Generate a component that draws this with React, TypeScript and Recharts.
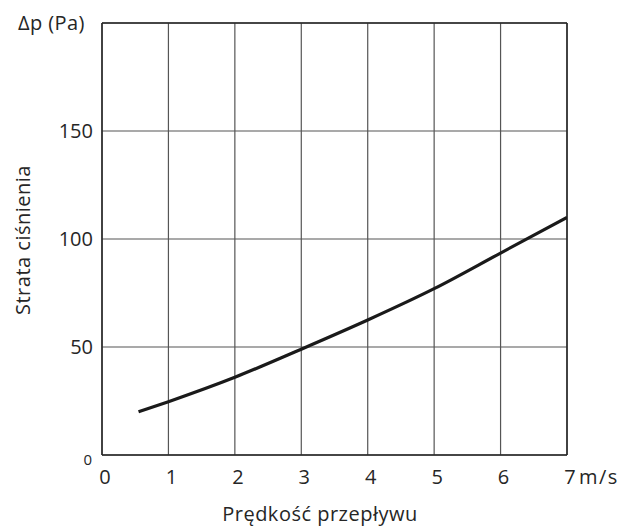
import React from 'react';
import { LineChart, Line, XAxis, YAxis, CartesianGrid, ReferenceLine } from 'recharts';

// Prędkość przepływu (m/s) i strata ciśnienia (Pa)
const speed = [0.55, 1, 2, 3, 4, 5, 6, 7];
const pressure = [20, 24.7, 36, 49, 62.5, 77, 93.5, 110];
const xTicks = [0, 1, 2, 3, 4, 5, 6, 7];
const yTicks = [0, 50, 100, 150];

const data = speed.map((v, i) => ({ v, p: pressure[i] }));

const FONT = '"Open Sans", "Noto Sans", sans-serif';
const INK = '#262626';

const renderYTick = (props: any) => {
  const { x, y, payload } = props;
  const zero = payload.value === 0;
  return (
    <text x={x} y={y} dy={zero ? 10 : 7} dx={zero ? -2 : -1} textAnchor="end" fontFamily={FONT}
      fontSize={zero ? 15 : 20} fill={INK}>
      {payload.value}
    </text>
  );
};

const renderXTick = (props: any) => {
  const { x, y, payload } = props;
  return (
    <g>
      <text x={x + 3} y={y} dy={21} textAnchor="middle" fontFamily={FONT} fontSize={20} fill={INK}>
        {payload.value}
      </text>
      {payload.value === 7 && (
        <text x={x + 12} y={y} dy={21} textAnchor="start" fontFamily={FONT} fontSize={20}
          letterSpacing={1.5} fill={INK}>
          m/s
        </text>
      )}
    </g>
  );
};

const App: React.FC = () => {
  return (
    <div style={{ position: 'absolute', left: 0, top: 0, width: 619, height: 526, background: '#fff' }}>
      <LineChart width={619} height={526} data={data}
        margin={{ top: 23, right: 52, bottom: 31, left: 42 }}>
        <CartesianGrid stroke="#555" strokeWidth={1.2} />
        <XAxis dataKey="v" type="number" domain={[0, 7]} ticks={xTicks} height={40}
          axisLine={{ stroke: INK, strokeWidth: 1.5 }} tickLine={false} tick={renderXTick}
          interval={0} allowDataOverflow />
        <YAxis type="number" domain={[0, 200]} ticks={yTicks} width={60}
          axisLine={{ stroke: INK, strokeWidth: 1.5 }} tickLine={false} tick={renderYTick}
          interval={0} allowDataOverflow />
        <ReferenceLine y={200} stroke={INK} strokeWidth={1.5} />
        <ReferenceLine x={7} stroke={INK} strokeWidth={1.5} />
        <Line dataKey="p" type="monotone" stroke="#1a1a1a" strokeWidth={3.2} dot={false}
          isAnimationActive={false} />
      </LineChart>
      <div style={{ position: 'absolute', left: 18, top: 9, fontFamily: FONT, fontSize: 20,
        letterSpacing: 0.4, color: INK, lineHeight: '28px', whiteSpace: 'nowrap' }}>
        Δp (Pa)
      </div>
      <div style={{ position: 'absolute', left: 320, top: 513, transform: 'translate(-50%, -50%)',
        fontFamily: FONT, fontSize: 20, letterSpacing: 0.5, color: INK, whiteSpace: 'nowrap' }}>
        Prędkość przepływu
      </div>
      <div style={{ position: 'absolute', left: 22, top: 240, transform: 'translate(-50%, -50%) rotate(-90deg)',
        fontFamily: FONT, fontSize: 20, letterSpacing: 0.5, color: INK, whiteSpace: 'nowrap' }}>
        Strata ciśnienia
      </div>
    </div>
  );
};

export default App;
